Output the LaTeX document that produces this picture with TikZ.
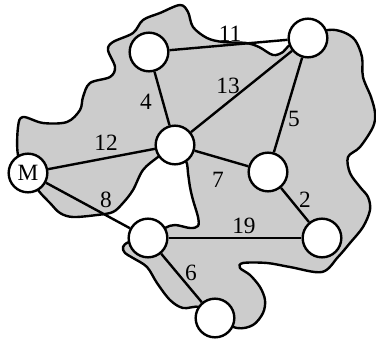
\documentclass[tikz,border=0pt]{standalone}
\usepackage{fontspec}
\setmainfont{Liberation Serif}
\pgfdeclarelayer{background}
\pgfsetlayers{background,main}
\begin{document}
\begin{tikzpicture}[x=0.75pt,y=-0.75pt,
  vtx/.style={circle,draw=black,fill=white,line width=1.8pt,minimum size=29pt,inner sep=0pt,font=\fontsize{17.5}{17.5}\selectfont},
  edge/.style={line width=1.8pt},
  lbl/.style={inner sep=0pt,font=\fontsize{17.5}{17.5}\selectfont},
  blob/.style={fill=black!20,draw=black,line width=1.8pt}]
\useasboundingbox (0,0) rectangle (376,339);
\node[vtx] (A) at (149,52) {};
\node[vtx] (B) at (308,38) {};
\node[vtx] (C) at (175,145) {};
\node[vtx] (D) at (268,172) {};
\node[vtx] (M) at (28,173) {M};
\node[vtx] (E) at (148,238) {};
\node[vtx] (F) at (322,238) {};
\node[vtx] (G) at (215,318) {};
\begin{pgfonlayer}{background}
\draw[blob] plot[smooth cycle,tension=0.55] coordinates {
 (18,155) (18,127) (23,117) (43,123) (67,122) (80,110) (83,97) (90,83) (110,77) (115,67) (108,50) (113,42) (133,33) (143,20) (160,13) (180,5) (188,12) (193,27) (207,38) (223,42) (246,43) (259,47) (273,55) (283,52) (290,45)
 (308,38)
 (328,30) (343,32) (355,40) (362,57) (363,77) (371,97) (375,113) (373,127) (360,147) (348,157) (350,173) (360,187) (368,197) (370,210) (363,227) (350,243) (338,257) (322,272) (290,267) (267,263) (243,263) (240,268) (250,275) (260,287) (265,300) (263,313) (253,325) (237,328)
 (215,318)
 (200,307) (183,308) (170,300) (157,283) (147,267) (133,258) (125,253) (123,247) (129,242)
 (148,238)
 (165,228) (175,225) (190,228) (198,226) (198,217) (193,200) (190,187) (188,173) (186,161)
 (175,145)
 (158,157) (143,170) (133,190) (123,203) (113,212) (97,215) (73,217) (60,213) (50,203) (38,190)
 (28,173)
};
\draw[edge] (A) -- (B);
\draw[edge] (A) -- (C);
\draw[edge] (C) -- (B);
\draw[edge] (B) -- (D);
\draw[edge] (C) -- (D);
\draw[edge] (D) -- (F);
\draw[edge] (M) -- (C);
\draw[edge] (M) -- (E);
\draw[edge] (E) -- (F);
\draw[edge] (E) -- (G);
\end{pgfonlayer}
\node[lbl] (l11) at (230,34) {11};
\node[lbl] (l13) at (228,86) {13};
\node[lbl] (l4) at (146,102) {4};
\node[lbl] (l5) at (294,119) {5};
\node[lbl] (l12) at (106,143) {12};
\node[lbl] (l7) at (218,180) {7};
\node[lbl] (l8) at (106,200) {8};
\node[lbl] (l2) at (305,200) {2};
\node[lbl] (l19) at (244,226) {19};
\node[lbl] (l6) at (191,273) {6};
\end{tikzpicture}
\end{document}
